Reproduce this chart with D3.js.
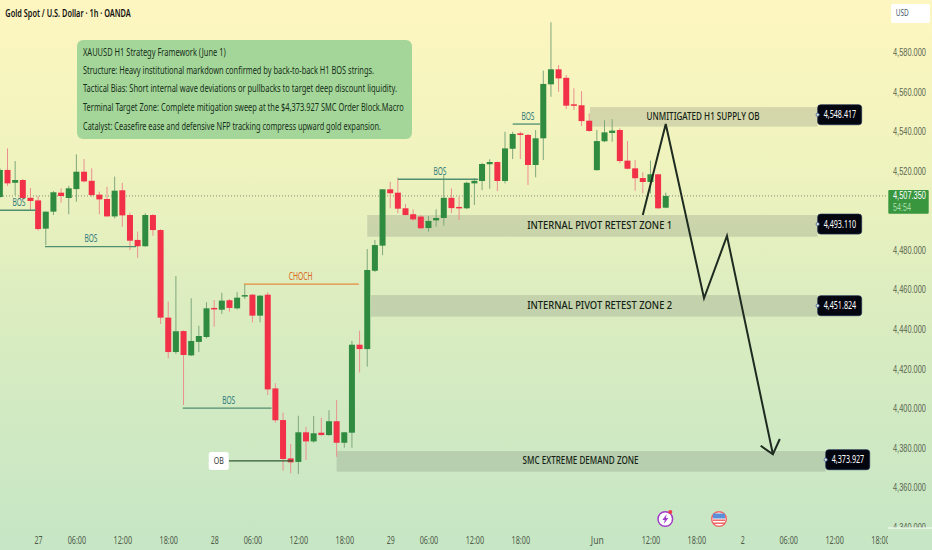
<!DOCTYPE html>
<html><head><meta charset="utf-8">
<script src="https://cdn.jsdelivr.net/npm/d3@7/dist/d3.min.js"></script>
<style>html,body{margin:0;padding:0;background:#dcedc0;overflow:hidden}svg{display:block}text{font-family:"Noto Sans",sans-serif}</style>
</head><body><svg id="c" width="932" height="550"></svg>
<script>
const opens=[4506.8,4520.5,4514,4515.4,4506.4,4505.1,4490.8,4499.4,4509,4506.3,
4510.8,4519.6,4515,4508,4505.8,4497,4510.2,4497.7,4485.1,4481.9,
4497.7,4490.1,4445.8,4428.4,4439,4426.7,4433.5,4436,4450.7,4449.8,
4454.6,4450.5,4456.7,4457.4,4446.8,4457.4,4410,4394,4374.6,4372.8,
4387.8,4383.2,4387.6,4386.4,4393.4,4382.5,4387.6,4432.1,4429.9,4469.5,
4482.2,4510.7,4509,4501.1,4498.1,4496.9,4491.1,4495,4496.2,4506.4,
4501.8,4501.1,4513.7,4514.9,4523.4,4524.5,4514.9,4531.2,4539,4538.2,
4523,4536.5,4563.8,4571.4,4567.1,4553.7,4553.2,4545.4,4520.4,4535,
4539.2,4540.7,4525.2,4521.3,4516.4,4514.4,4518.3,4501.4];
const closes=[4520.5,4513.7,4515.4,4506.3,4504.8,4490.6,4499.4,4509.2,4507.3,4511.2,
4519.6,4514.7,4507.8,4505.6,4497,4510,4497.5,4484.7,4481.9,4497.7,
4490.1,4445.8,4428.4,4438.9,4426.9,4434,4436.5,4450.5,4450,4454.4,
4450.7,4455.9,4457.2,4446.8,4456.9,4409.5,4393.9,4374.3,4372.6,4387.8,
4383.2,4387.3,4386.4,4393.4,4382.5,4387.8,4432.1,4429.9,4469.9,4482.5,
4510.7,4508.7,4500.9,4497.7,4495.5,4491,4494.7,4496.2,4506.4,4501.2,
4501.2,4514,4515,4523.5,4524.5,4514.9,4531.4,4538.7,4538.2,4523,
4536.5,4564,4571.4,4566.8,4553,4553.2,4545.2,4540.2,4535.1,4539.5,
4540.4,4525,4521.1,4516.3,4514.4,4518.3,4501.1,4507.35];
const highs=[4521.5,4531.4,4525,4515.9,4511.4,4507.3,4499.4,4509.8,4511.2,4512.4,
4528.4,4526,4521.3,4509.5,4512,4517.1,4514,4498.9,4489.3,4498.6,
4498.2,4490.5,4453.9,4466.8,4439.3,4455.6,4441.7,4453.6,4454.7,4458.4,
4455.2,4458.8,4462.8,4457.7,4457.2,4458.6,4412.6,4397.7,4381.9,4396.2,
4390.6,4396,4395.2,4399,4404.1,4388,4434,4439.2,4480.5,4485.1,
4510.8,4514.5,4516.6,4503.3,4500.6,4497.7,4497.2,4500.6,4517.9,4511.2,
4507,4514.5,4516.3,4524.1,4525.9,4524.8,4539.8,4539.8,4539.8,4538.7,
4540.7,4570.7,4595.2,4573.6,4568.5,4561.8,4560.4,4549.1,4540.7,4545.7,
4546.2,4541.6,4535.1,4525.5,4519.3,4525.2,4518.5,4509];
const lows=[4506.3,4512.4,4507.8,4505.3,4500.2,4489.8,4482.5,4497.7,4503.9,4498.1,
4504.4,4514.2,4507,4498.1,4496.9,4496,4491.8,4480,4476.1,4481.7,
4487.2,4442.6,4425.2,4427.4,4401.6,4426.4,4428.4,4435.3,4441.2,4447.6,
4448.8,4450,4455.2,4443.4,4443.4,4406.7,4392.7,4368.4,4367,4366.7,
4373.8,4382.5,4386.1,4386,4375.4,4380,4380,4418.1,4421,4468.9,
4477.4,4501.1,4498.6,4497.5,4494.8,4490.5,4489.3,4491.8,4492.3,4498.6,
4495.2,4500.7,4502.8,4510.3,4511,4509.8,4513.7,4526,4526,4512.9,
4516.8,4525.5,4557.5,4560,4551.3,4550.8,4542.7,4539.8,4520.1,4534.5,
4534.8,4523.9,4520.8,4510,4508.7,4508.7,4500.7,4501.1];

const priceTicks=[4580,4560,4540,4520,4480,4460,4440,4420,4400,4380,4360];
const cutPriceTicks=[4340];
const timeBars=[5,10,16,22,28,33,39,45,51,56,62,68,78,85,91,97,103,109];
const timeLabels=["27","06:00","12:00","18:00","28","06:00","12:00","18:00","29","06:00","12:00","18:00","Jun","12:00","18:00","2","06:00","12:00"];
const cutTimeBars=[115];
const cutTimeLabels=["18:00"];

const zoneNames=["UNMITIGATED H1 SUPPLY OB","INTERNAL PIVOT RETEST ZONE 1","INTERNAL PIVOT RETEST ZONE 2","SMC EXTREME DEMAND ZONE"];
const zoneTop=[4552.3,4497.7,4457.2,4378.3];
const zoneBottom=[4542.4,4486.7,4446.3,4367.9];
const zoneStart=[77.1,48,48.5,44];
const zoneEnd=[106.85,106.85,106.85,107.9];
const zoneLevels=[4548.417,4493.11,4451.824,4373.927];
const zoneTextBar=[84.5,68.9,68.9,68.3];

const markNames=["BOS","BOS","BOS","CHOCH","BOS","BOS"];
const markPrice=[4500.1,4481.7,4400,4462.7,4515.8,4543.7];
const markStart=[0,5.9,23.9,31.9,52,67];
const markEnd=[4.7,17.8,35.5,46.9,62.5,70.6];
const markText=[2.5,11.9,29.9,39.3,57.5,69];

const pathBars=[84,87,92,95,101];
const pathPrices=[4497.7,4543.7,4455.6,4487.1,4376.7];
const headBars=[99.4,101,101.9];
const headPrices=[4381,4376.7,4384.4];

const panelLines=["XAUUSD H1 Strategy Framework (June 1)",
"Structure: Heavy institutional markdown confirmed by back-to-back H1 BOS strings.",
"Tactical Bias: Short internal wave deviations or pullbacks to target deep discount liquidity.",
"Terminal Target Zone: Complete mitigation sweep at the $4,373.927 SMC Order Block.Macro",
"Catalyst: Ceasefire ease and defensive NFP tracking compress upward gold expansion."];
const title="Gold Spot / U.S. Dollar · 1h · OANDA";
const lastPrice=4507.35, countdown="54:54", currency="USD";

const W=932,H=550,axisX=888,axisY=528;
const narrow='"Liberation Sans",sans-serif';
const svg=d3.select("#c");
const x=d3.scaleLinear().domain([0,115]).range([-0.15,880.06]);
const y=d3.scaleLinear().domain([4580,4340]).range([52.3,526.8]);
const fmt=d3.format(",.3f");

const defs=svg.append("defs");
const grad=defs.append("linearGradient").attr("id","bg").attr("x1",0).attr("y1",0).attr("x2",0).attr("y2",1);
[[0,"#fef6c0"],[.3,"#eff3be"],[.55,"#dcedc0"],[.8,"#cfe9c3"],[1,"#c6e6c5"]].forEach(s=>grad.append("stop").attr("offset",s[0]).attr("stop-color",s[1]));
defs.append("clipPath").attr("id","plot").append("rect").attr("width",axisX).attr("height",axisY);
defs.append("clipPath").attr("id","yclip").append("rect").attr("x",axisX).attr("width",W-axisX).attr("height",axisY);
defs.append("clipPath").attr("id","xclip").append("rect").attr("y",axisY).attr("width",axisX).attr("height",H-axisY);
svg.append("rect").attr("width",W).attr("height",H).attr("fill","url(#bg)");

function T(g,px,py,s,w,o={}){
  const t=g.append("text").attr("x",px).attr("y",py).attr("dy","0.35em").text(s)
   .attr("font-size",o.size||10).attr("font-weight",o.weight||400).attr("fill",o.fill||"#16301a")
   .attr("text-anchor",o.anchor||"start").attr("textLength",w).attr("lengthAdjust","spacingAndGlyphs");
  if(o.family) t.style("font-family",o.family);
  return t;
}
// squeeze a text horizontally to a target width, keeping its left edge
function squeeze(sel,w){
  sel.each(function(){
    const s=w/this.getComputedTextLength();
    d3.select(this).attr("transform",`scale(${s},1)`);
  });
}
const plot=svg.append("g").attr("clip-path","url(#plot)");

plot.append("line").attr("x1",0).attr("x2",axisX).attr("y1",y(lastPrice)).attr("y2",y(lastPrice))
 .attr("stroke","#7f8f70").attr("stroke-dasharray","1 2").attr("stroke-width",1);

plot.selectAll("rect.z").data(zoneNames).join("rect").attr("class","z")
 .attr("x",(d,i)=>x(zoneStart[i])).attr("width",(d,i)=>x(zoneEnd[i])-x(zoneStart[i]))
 .attr("y",(d,i)=>y(zoneTop[i])).attr("height",(d,i)=>y(zoneBottom[i])-y(zoneTop[i]))
 .attr("fill","#6f7a6a").attr("fill-opacity",.23);

const bars=d3.range(opens.length);
const red="#f23148",green="#2f8b3f";
plot.selectAll("line.w").data(bars).join("line").attr("class","w")
 .attr("x1",i=>x(i)).attr("x2",i=>x(i)).attr("y1",i=>y(highs[i])).attr("y2",i=>y(lows[i]))
 .attr("stroke",i=>closes[i]>=opens[i]?"#7fa77c":"#ec8f8f").attr("stroke-width",1);
plot.selectAll("rect.b").data(bars).join("rect").attr("class","b")
 .attr("x",i=>x(i)-3).attr("width",6)
 .attr("y",i=>y(Math.max(opens[i],closes[i])))
 .attr("height",i=>Math.max(1.5,Math.abs(y(opens[i])-y(closes[i]))))
 .attr("fill",i=>closes[i]>=opens[i]?green:red);

markNames.forEach((n,i)=>{
  const c=n==="CHOCH"?"#e58a3a":"#4f8f6f";
  plot.append("line").attr("x1",x(markStart[i])).attr("x2",x(markEnd[i])).attr("y1",y(markPrice[i])).attr("y2",y(markPrice[i]))
   .attr("stroke",c).attr("stroke-width",1.3);
  T(plot,x(markText[i]),y(markPrice[i])-8,n,n==="CHOCH"?24:13,{anchor:"middle",fill:n==="CHOCH"?"#d9661a":"#2f7a7a",size:10});
});
plot.append("line").attr("x1",x(29.9)).attr("x2",x(38.3)).attr("y1",y(4373.3)).attr("y2",y(4373.3)).attr("stroke","#2f5a35").attr("stroke-width",1.3);
plot.append("rect").attr("x",x(29.9)-20).attr("width",20).attr("y",y(4373.3)-9).attr("height",18).attr("rx",2.5).attr("fill","#fff");
T(plot,x(29.9)-10,y(4373.3),"OB",10,{anchor:"middle",fill:"#333",size:9.5});

const ln=d3.line().x(d=>x(d[0])).y(d=>y(d[1]));
const pathStyle=s=>s.attr("fill","none").attr("stroke","#1e2b20").attr("stroke-width",2).attr("stroke-linejoin","miter");
plot.append("path").attr("d",ln(pathBars.map((b,i)=>[b,pathPrices[i]]))).call(pathStyle);
plot.append("path").attr("d",ln(headBars.map((b,i)=>[b,headPrices[i]]))).call(pathStyle);

zoneNames.forEach((n,i)=>{
  const w=[113,145,145,116][i];
  T(svg,x(zoneTextBar[i]),(y(zoneTop[i])+y(zoneBottom[i]))/2+[-.5,0,0,-.5][i],n,w,{fill:"#141f14",weight:500,size:10});
  const px=x(zoneEnd[i]),py=y(zoneLevels[i]);
  svg.append("rect").attr("x",px).attr("y",py-10).attr("width",44).attr("height",20).attr("rx",3).attr("fill","#03050f").attr("stroke","#1d2a52").attr("stroke-width",.7);
  T(svg,px+6,py,fmt(zoneLevels[i]),32.5,{fill:"#fff",size:10});
  svg.append("circle").attr("cx",px).attr("cy",py).attr("r",1.6).attr("fill","#e8eed0").attr("stroke","#3a56a0").attr("stroke-width",.8);
});

svg.append("rect").attr("x",77).attr("y",40).attr("width",335).attr("height",99).attr("rx",6).attr("fill","#a5d699");
const lineW=[142.7,291,314,320.7,298], lineY=[52,70.3,88.7,107.5,126];
panelLines.forEach((s,i)=>T(svg,83,lineY[i],s,lineW[i],{size:10,fill:"#15301a"}));
T(svg,5.3,13,title,125.5,{size:10.5,weight:600,fill:"#111"});

function yAxis(parent,vals){
  const g=parent.append("g").attr("transform","translate(893,0)")
   .call(d3.axisRight(y).tickValues(vals).tickSize(0).tickPadding(0).tickFormat(fmt));
  g.select(".domain").remove();
  g.selectAll("text").attr("font-size",10.5).attr("fill","#5b6650").style("font-family",narrow).call(squeeze,33);
}
yAxis(svg,priceTicks);
yAxis(svg.append("g").attr("clip-path","url(#yclip)"),cutPriceTicks);
function xAxis(parent,vals,labs){
  const g=parent.append("g").attr("transform","translate(0,536.5)")
   .call(d3.axisBottom(x).tickValues(vals).tickSize(0).tickPadding(0).tickFormat((d,i)=>labs[i]));
  g.select(".domain").remove();
  g.selectAll("text").attr("font-size",10).attr("fill","#4f5c4a").attr("font-family",'"Noto Sans",sans-serif')
   .attr("textLength",(d,i)=>labs[i].length>3?18.5:labs[i].length===3?13:labs[i].length===2?8:4).attr("lengthAdjust","spacingAndGlyphs");
}
xAxis(svg,timeBars,timeLabels);
xAxis(svg.append("g").attr("clip-path","url(#xclip)"),cutTimeBars,cutTimeLabels);
svg.append("line").attr("x1",axisX).attr("x2",W).attr("y1",axisY).attr("y2",axisY).attr("stroke","#fff").attr("stroke-width",1);

svg.append("rect").attr("x",891).attr("y",4).attr("width",39).attr("height",19).attr("rx",2).attr("fill","#fff");
T(svg,895.7,13,currency,13,{fill:"#4a5a6a",size:9.5});

svg.append("rect").attr("x",888.3).attr("y",190).attr("width",40.4).attr("height",23.7).attr("rx",1).attr("fill","#38963f");
const tagG=svg.append("g").attr("transform","translate(893,0)");
tagG.append("text").attr("y",196).attr("dy","0.35em").text(fmt(lastPrice)).attr("font-size",10).attr("fill","#fff").style("font-family",narrow).call(squeeze,33);
T(svg,893,207.5,countdown,18,{fill:"#a9dfa9",size:10,family:narrow});

const ic=svg.append("g").attr("transform","translate(665.3,519)");
ic.append("circle").attr("r",7.3).attr("fill","#fff").attr("stroke","#a03cc8").attr("stroke-width",1.5);
ic.append("path").attr("d","M1.5,-5 L-3,1 L-0.5,1 L-1.5,5 L3,-1 L0.5,-1 Z").attr("fill","#a03cc8");
ic.append("circle").attr("cx",5).attr("cy",-7).attr("r",2).attr("fill","#ef3a4c");
const fl=svg.append("g").attr("transform","translate(719,519)");
fl.append("circle").attr("r",7.3).attr("fill","#fff").attr("stroke","#ee6a6a").attr("stroke-width",1.5);
fl.append("rect").attr("x",-6).attr("y",-5.5).attr("width",12).attr("height",5).attr("fill","#5b8fd8");
[0.5,3.5].forEach(d=>fl.append("rect").attr("x",-6).attr("y",d).attr("width",12).attr("height",1.4).attr("fill","#ef5a5a"));
</script></body></html>
